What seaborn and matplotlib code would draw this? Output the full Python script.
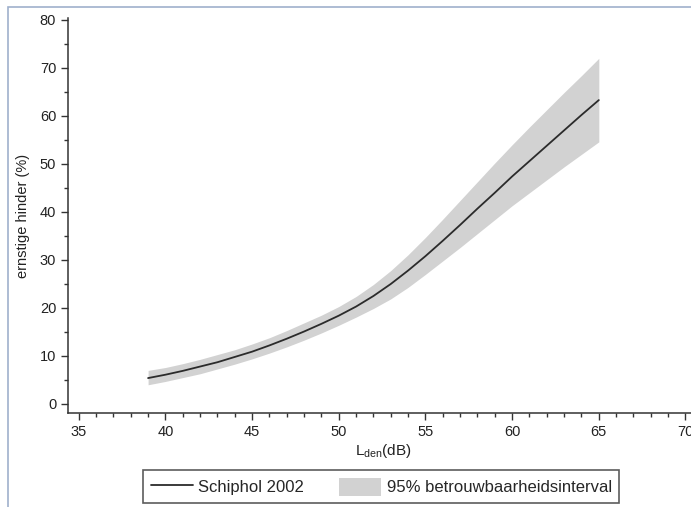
import numpy as np
import pandas as pd
import seaborn as sns
import matplotlib.pyplot as plt
from matplotlib.lines import Line2D
from matplotlib.patches import Patch, Rectangle
from matplotlib.ticker import MultipleLocator

# Lden (dB) and severe annoyance (%)
lden = [39, 40, 41, 42, 43, 44, 45, 46, 47, 48, 49, 50, 51, 52,
        53, 54, 55, 56, 57, 58, 59, 60, 61, 62, 63, 64, 65]
hinder = [5.4, 6.1, 6.9, 7.8, 8.7, 9.8, 10.9, 12.2, 13.6, 15.1, 16.7, 18.4, 20.3, 22.5,
          25.0, 27.8, 30.8, 34.0, 37.3, 40.7, 44.0, 47.4, 50.6, 53.8, 57.0, 60.2, 63.3]
ci_low = [4.0, 4.7, 5.5, 6.3, 7.3, 8.3, 9.4, 10.6, 11.9, 13.3, 14.8, 16.4, 18.1, 19.9,
          21.9, 24.3, 27.0, 29.8, 32.6, 35.5, 38.4, 41.3, 44.0, 46.7, 49.4, 52.0, 54.6]
ci_high = [7.0, 7.6, 8.4, 9.3, 10.3, 11.3, 12.5, 13.8, 15.3, 16.9, 18.5, 20.3, 22.4, 24.9,
           27.8, 31.1, 34.7, 38.5, 42.4, 46.3, 50.2, 54.0, 57.7, 61.3, 64.9, 68.4, 72.0]

line_label = 'Schiphol 2002'
band_label = '95% betrouwbaarheidsinterval'

df = pd.DataFrame({'LDEN': lden, 'HINDER': hinder, 'LOW': ci_low, 'HIGH': ci_high})

sns.set_style('ticks')
plt.rcParams['font.family'] = ['Liberation Sans', 'DejaVu Sans']
plt.rcParams['mathtext.fontset'] = 'custom'
plt.rcParams['mathtext.rm'] = 'Liberation Sans'

fig = plt.figure(figsize=(6.91, 5.07), dpi=100)
# screenshot frame (top-left corner of a larger window)
fig.patches.append(Rectangle((8 / 691, -0.1), 1.2, 1 - 7 / 507 + 0.1, transform=fig.transFigure,
                             fill=False, edgecolor='#9fb0cc', linewidth=1.2))

ax = fig.add_axes([0.0984, 0.1848, 0.9117, 0.7797])
ax.fill_between(df['LDEN'], df['LOW'], df['HIGH'], color='#d2d2d2', linewidth=0)
sns.lineplot(data=df, x='LDEN', y='HINDER', ax=ax, color='#2b2b2b', linewidth=1.3)

ax.set_xlim(34.38, 70.72)
ax.set_ylim(-1.94, 80.4)
ax.xaxis.set_major_locator(MultipleLocator(5))
ax.xaxis.set_minor_locator(MultipleLocator(1))
ax.yaxis.set_major_locator(MultipleLocator(10))
ax.yaxis.set_minor_locator(MultipleLocator(5))
ax.tick_params(which='major', length=5, width=1, color='#333333', labelsize=10.5, labelcolor='#222222')
ax.tick_params(which='minor', length=3, width=1, color='#333333')
for s in ['top', 'right']:
    ax.spines[s].set_visible(False)
for s in ['left', 'bottom']:
    ax.spines[s].set_color('#333333')
    ax.spines[s].set_linewidth(1.1)

ax.set_xlabel(r'L$_{\rm den}$(dB)', fontsize=11, color='#222222', labelpad=2)
ax.set_ylabel('ernstige hinder (%)', fontsize=10.5, color='#222222', labelpad=7)

handles = [Line2D([], [], color='#2b2b2b', linewidth=1.3),
           Patch(facecolor='#d2d2d2', edgecolor='none')]
leg = fig.legend(handles, [line_label, band_label], loc='center', ncol=2,
                 bbox_to_anchor=(0.552, 0.040), fontsize=12, frameon=True, fancybox=False,
                 handlelength=2.5, handleheight=1.3, handletextpad=0.35,
                 columnspacing=2.1, borderpad=0.45, borderaxespad=0)
leg.get_frame().set_edgecolor('#333333')
leg.get_frame().set_linewidth(1.2)

plt.savefig('out.png', dpi=100)
